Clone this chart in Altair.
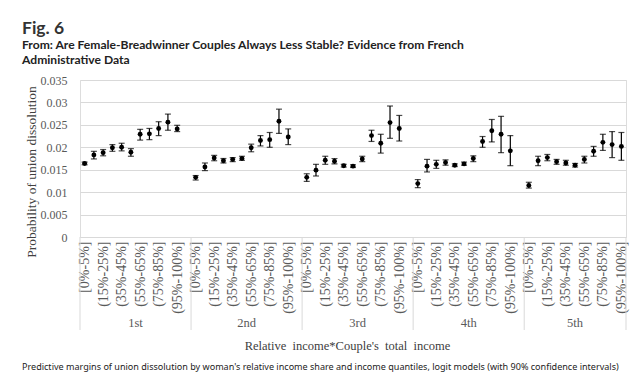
import altair as alt
import pandas as pd

groups = ["1st", "2nd", "3rd", "4th", "5th"]
categories = ["[0%-5%]", "(5%-15%]", "(15%-25%]", "(25%-35%]", "(35%-45%]", "(45%-55%]",
              "(55%-65%]", "(65%-75%]", "(75%-85%]", "(85%-95%]", "(95%-100%]"]

est_1st = [0.0164, 0.0183, 0.0188, 0.0199, 0.0200, 0.0189, 0.0229, 0.0230, 0.0242, 0.0256, 0.0241]
lo_1st = [0.0161, 0.0174, 0.0181, 0.0191, 0.0192, 0.0180, 0.0216, 0.0217, 0.0226, 0.0238, 0.0235]
hi_1st = [0.0167, 0.0191, 0.0195, 0.0206, 0.0209, 0.0197, 0.0240, 0.0242, 0.0257, 0.0274, 0.0249]

est_2nd = [0.0133, 0.0156, 0.0176, 0.0170, 0.0173, 0.0175, 0.0199, 0.0215, 0.0217, 0.0258, 0.0223]
lo_2nd = [0.0127, 0.0148, 0.0170, 0.0165, 0.0168, 0.0171, 0.0190, 0.0203, 0.0200, 0.0231, 0.0206]
hi_2nd = [0.0137, 0.0165, 0.0182, 0.0175, 0.0177, 0.0180, 0.0207, 0.0226, 0.0233, 0.0285, 0.0241]

est_3rd = [0.0133, 0.0149, 0.0171, 0.0169, 0.0159, 0.0158, 0.0174, 0.0226, 0.0209, 0.0255, 0.0242]
lo_3rd = [0.0124, 0.0136, 0.0162, 0.0163, 0.0156, 0.0155, 0.0168, 0.0213, 0.0187, 0.0220, 0.0214]
hi_3rd = [0.0141, 0.0162, 0.0180, 0.0175, 0.0162, 0.0161, 0.0180, 0.0238, 0.0229, 0.0292, 0.0271]

est_4th = [0.0119, 0.0158, 0.0162, 0.0166, 0.0160, 0.0163, 0.0175, 0.0213, 0.0237, 0.0229, 0.0192]
lo_4th = [0.0110, 0.0145, 0.0153, 0.0160, 0.0157, 0.0160, 0.0168, 0.0200, 0.0212, 0.0188, 0.0159]
hi_4th = [0.0128, 0.0173, 0.0171, 0.0172, 0.0163, 0.0167, 0.0181, 0.0224, 0.0262, 0.0269, 0.0226]

est_5th = [0.0115, 0.0170, 0.0177, 0.0168, 0.0165, 0.0160, 0.0173, 0.0191, 0.0211, 0.0206, 0.0202]
lo_5th = [0.0109, 0.0159, 0.0170, 0.0162, 0.0160, 0.0156, 0.0165, 0.0180, 0.0193, 0.0177, 0.0171]
hi_5th = [0.0122, 0.0180, 0.0184, 0.0173, 0.0171, 0.0164, 0.0180, 0.0202, 0.0229, 0.0235, 0.0233]

y_ticks = [0, 0.005, 0.01, 0.015, 0.02, 0.025, 0.03, 0.035]

title_text = "Fig. 6"
subtitle_text = ["From: Are Female-Breadwinner Couples Always Less Stable? Evidence from French",
                 "Administrative Data"]
y_title = "Probability of union dissolution"
x_title = "Relative\u00a0 income*Couple's\u00a0 total\u00a0 income"
caption = ("Predictive margins of union dissolution by woman's relative income share and income "
           "quantiles, logit models (with 90% confidence intervals)")

all_est = [est_1st, est_2nd, est_3rd, est_4th, est_5th]
all_lo = [lo_1st, lo_2nd, lo_3rd, lo_4th, lo_5th]
all_hi = [hi_1st, hi_2nd, hi_3rd, hi_4th, hi_5th]

SLOTS = 12  # 11 categories + 1 blank slot between groups
n_slots = SLOTS * len(groups) - 1

rows = []
for g, name in enumerate(groups):
    for j, cat in enumerate(categories):
        rows.append({"group": name, "cat": cat, "pos": g * SLOTS + j + 0.5,
                     "est": all_est[g][j], "lo": all_lo[g][j], "hi": all_hi[g][j]})
df = pd.DataFrame(rows)

bounds = [g * SLOTS for g in range(len(groups))] + [n_slots]
sep_df = pd.DataFrame({"b": bounds})
grp_df = pd.DataFrame({"group": groups,
                       "center": [(bounds[i] + bounds[i + 1]) / 2 for i in range(len(groups))]})
label_positions = [g * SLOTS + j + 0.5 for g in range(len(groups)) for j in range(0, len(categories), 2)]
cat_array = "[" + ",".join("'" + c + "'" for c in categories) + "]"
label_expr = f"{cat_array}[floor(datum.value) % {SLOTS}]"

W, H = 546, 157
SERIF = "Liberation Serif"
SANS = "Lato"
GRAY_TXT = "#595959"
GRID = "#d9d9d9"

xscale = alt.Scale(domain=[0, n_slots], nice=False, zero=False)
yscale = alt.Scale(domain=[0, 0.035], nice=False)

xaxis = alt.Axis(values=label_positions, labelExpr=label_expr, labelAngle=270,
                 labelFont=SERIF, labelFontSize=14, labelColor=GRAY_TXT, labelPadding=4,
                 ticks=False, grid=False, domain=False, labelOverlap=False, labelFlush=False,
                 title=x_title, titleFont=SERIF, titleFontSize=12.5, titleFontWeight="normal",
                 titleColor="#404040", titleY=102, titleX=W / 2 - 6)
yaxis = alt.Axis(values=y_ticks, format=".3~f", labelFont=SERIF, labelFontSize=12,
                 labelColor=GRAY_TXT, ticks=False, domain=False, gridColor=GRID,
                 labelOverlap=False, labelFlush=False,
                 labelPadding=13, title=y_title, titleFont=SERIF, titleFontSize=13.5,
                 titleFontWeight="normal", titleColor="#404040", titlePadding=2,
                 titleY=H / 2 + 13)

base = alt.Chart(df)
errbars = base.mark_errorbar(ticks={"size": 6, "color": "black"}, color="black",
                             thickness=1.2).encode(
    x=alt.X("pos:Q", scale=xscale, axis=xaxis),
    y=alt.Y("lo:Q", scale=yscale, axis=yaxis),
    y2="hi:Q",
)
points = base.mark_point(filled=True, size=24, color="black", opacity=1).encode(
    x=alt.X("pos:Q", scale=xscale, axis=xaxis),
    y=alt.Y("est:Q", scale=yscale, axis=yaxis),
)
seps = alt.Chart(sep_df).mark_rule(color=GRID, strokeWidth=1).encode(
    x=alt.X("b:Q", scale=xscale, axis=xaxis),
    y=alt.value(H), y2=alt.value(H + 93),
)
glabels = alt.Chart(grp_df).mark_text(font=SERIF, fontSize=12.5, color=GRAY_TXT,
                                      baseline="alphabetic").encode(
    x=alt.X("center:Q", scale=xscale, axis=xaxis),
    y=alt.value(H + 90),
    text="group:N",
)
cap = alt.Chart(pd.DataFrame({"t": [caption]})).mark_text(
    font="Noto Sans", fontSize=9.05, color="#222222", align="left", baseline="alphabetic"
).encode(x=alt.value(-58), y=alt.value(290), text="t:N")

chart = alt.layer(errbars, points, seps, glabels, cap).properties(
    width=W, height=H,
    title=alt.TitleParams(
        text=title_text, subtitle=subtitle_text, anchor="start", frame="group", dx=-58,
        font=SANS, fontSize=17.5, fontWeight="bold", color="#333333",
        subtitleFont=SANS, subtitleFontSize=12.1, subtitleFontWeight="bold",
        subtitleColor="#222222", subtitleLineHeight=15, subtitlePadding=1, offset=8,
    ),
    autosize=alt.AutoSizeParams(type="none"),
    padding={"left": 72, "top": 72, "right": 6, "bottom": 142},
).configure_view(stroke=None).configure(background="white")

chart.save("out.html", embed_options={"renderer": "svg", "actions": False})
